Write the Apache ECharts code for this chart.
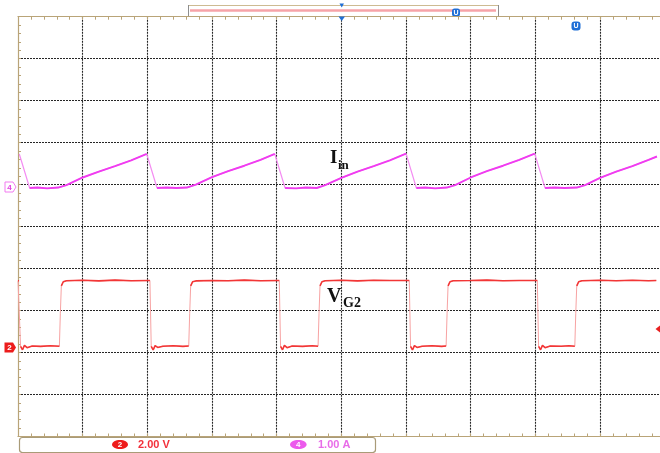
<!DOCTYPE html>
<html>
<head>
<meta charset="utf-8">
<script src="https://cdn.jsdelivr.net/npm/echarts@6/dist/echarts.min.js"></script>
<style>
  html, body { margin: 0; padding: 0; background: #ffffff; }
  #chart { width: 660px; height: 453px; }
</style>
</head>
<body>
<div id="chart"></div>
<script>
// Horizontal position is in screen divisions (10 across), 1.00 A/div on CH4, 2.00 V/div on CH2.

// CH4: input current Iin (A)
const iinTime = [
  0.02, 0.18, 0.30, 0.45, 0.62, 0.75, 1.00, 1.25, 1.50, 1.75,
  1.99, 2.15, 2.30, 2.45, 2.61, 2.75, 3.00, 3.25, 3.50, 3.75,
  3.97, 4.13, 4.30, 4.45, 4.62, 4.75, 5.00, 5.25, 5.50, 5.75,
  6.00, 6.16, 6.30, 6.45, 6.63, 6.76, 7.00, 7.25, 7.50, 7.75,
  7.99, 8.15, 8.30, 8.45, 8.64, 8.77, 9.00, 9.25, 9.50, 9.75, 9.88
];
const iinAmps = [
  0.81, 0.00, 0.01, -0.01, 0.01, 0.07, 0.25, 0.39, 0.52, 0.66,
  0.81, 0.00, 0.01, 0.00, 0.01, 0.08, 0.26, 0.40, 0.53, 0.67,
  0.81, 0.00, -0.01, 0.01, 0.00, 0.07, 0.24, 0.39, 0.52, 0.66,
  0.82, 0.00, 0.01, -0.01, 0.01, 0.07, 0.25, 0.40, 0.53, 0.67,
  0.82, 0.00, 0.01, 0.00, 0.01, 0.07, 0.24, 0.39, 0.52, 0.67, 0.75
];

// CH2: gate voltage VG2 (V)
const vg2Time = [
  0.00, 0.016, 0.04, 0.07, 0.10, 0.14, 0.22, 0.35, 0.50, 0.64, 0.655, 0.67, 0.70, 0.75,
  1.00, 1.25, 1.50, 1.75, 2.04, 2.06, 2.09, 2.12, 2.16, 2.24, 2.40, 2.55, 2.64, 2.655,
  2.67, 2.70, 2.75, 3.00, 3.25, 3.50, 3.75, 4.04, 4.06, 4.09, 4.12, 4.16, 4.24, 4.40,
  4.55, 4.64, 4.655, 4.67, 4.70, 4.75, 5.00, 5.25, 5.50, 5.75, 6.05, 6.07, 6.10, 6.13,
  6.17, 6.25, 6.40, 6.55, 6.62, 6.635, 6.65, 6.68, 6.73, 7.00, 7.25, 7.50, 7.75, 8.03,
  8.05, 8.08, 8.11, 8.15, 8.23, 8.40, 8.52, 8.61, 8.625, 8.64, 8.67, 8.72, 9.00, 9.25,
  9.50, 9.75, 9.87
];
const vg2Volts = [
  3.15, 3.15, 0.02, -0.14, 0.07, -0.04, 0.04, 0.02, 0.05, 0.03, 1.60, 2.90, 3.10, 3.15,
  3.17, 3.14, 3.18, 3.15, 3.16, 0.02, -0.15, 0.06, -0.03, 0.03, 0.05, 0.02, 0.04, 1.60,
  2.90, 3.10, 3.14, 3.16, 3.15, 3.18, 3.15, 3.16, 0.02, -0.14, 0.07, -0.04, 0.04, 0.02,
  0.05, 0.03, 1.60, 2.90, 3.10, 3.15, 3.17, 3.14, 3.17, 3.16, 3.16, 0.02, -0.15, 0.06,
  -0.03, 0.03, 0.05, 0.02, 0.04, 1.60, 2.90, 3.10, 3.15, 3.16, 3.18, 3.15, 3.16, 3.16,
  0.02, -0.14, 0.07, -0.04, 0.04, 0.03, 0.05, 0.03, 1.60, 2.90, 3.10, 3.15, 3.17, 3.15,
  3.17, 3.15, 3.16
];

// Channel settings shown in the status bar
const ch2Scale = '2.00 V';
const ch4Scale = '1.00 A';

// Screen layout: 10 x 10 divisions; ground references in divisions from the top edge
const DIVS = 10;
const CH4_GROUND_DIV = 4.08;   // 1.00 A per division
const CH2_GROUND_DIV = 7.864;  // 2.00 V per division

const BORDER = '#b9a478';
const GRID = '#262626';
const CH4 = '#f03cf0';
const CH4_EDGE = '#f48cf2';
const CH2 = '#f23636';
const CH2_EDGE = '#f7a3a3';

// Split a trace into its slow parts (bright) and steep transitions (faint), like a scope's intensity grading.
function slowParts(ts, vs, maxSlope) {
  const out = [];
  for (let i = 0; i < ts.length; i++) {
    if (i > 0) {
      const slope = Math.abs((vs[i] - vs[i - 1]) / (ts[i] - ts[i - 1]));
      if (slope > maxSlope) out.push([(ts[i] + ts[i - 1]) / 2, '-']);
    }
    out.push([ts[i], vs[i]]);
  }
  return out;
}
const pairs = (ts, vs) => ts.map((t, i) => [t, vs[i]]);

const chart = echarts.init(document.getElementById('chart'), null, { renderer: 'canvas' });

const frameAxis = (position, withGrid) => ({
  type: 'value', min: 0, max: DIVS, interval: 1, position: position,
  axisLine: { show: true, onZero: false, lineStyle: { color: BORDER, width: 1.2 } },
  axisTick: { show: true, inside: true, length: 3, lineStyle: { color: BORDER } },
  minorTick: { show: true, splitNumber: 5, length: 3, lineStyle: { color: BORDER } },
  axisLabel: { show: false },
  splitLine: {
    show: withGrid, showMinLine: false, showMaxLine: false,
    lineStyle: { color: GRID, width: 1.1, type: [2, 1] }
  }
});

chart.setOption({
  animation: false,
  backgroundColor: '#ffffff',
  grid: { left: 18, top: 16.7, width: 646.7, height: 419.8, containLabel: false, outerBoundsMode: 'none' },
  xAxis: [frameAxis('bottom', true), frameAxis('top', false)],
  yAxis: [
    frameAxis('left', true),
    { type: 'value', show: false, min: CH4_GROUND_DIV - DIVS, max: CH4_GROUND_DIV },
    { type: 'value', show: false, min: 2 * (CH2_GROUND_DIV - DIVS), max: 2 * CH2_GROUND_DIV }
  ],
  series: [
    { name: 'Iin edges', type: 'line', xAxisIndex: 0, yAxisIndex: 1, symbol: 'none',
      data: pairs(iinTime, iinAmps), lineStyle: { color: CH4_EDGE, width: 1.2 }, z: 3 },
    { name: 'Iin', type: 'line', xAxisIndex: 0, yAxisIndex: 1, symbol: 'none', connectNulls: false,
      data: slowParts(iinTime, iinAmps, 2), lineStyle: { color: CH4, width: 1.9 }, z: 4 },
    { name: 'VG2 edges', type: 'line', xAxisIndex: 0, yAxisIndex: 2, symbol: 'none',
      data: pairs(vg2Time, vg2Volts), lineStyle: { color: CH2_EDGE, width: 1 }, z: 3 },
    { name: 'VG2', type: 'line', xAxisIndex: 0, yAxisIndex: 2, symbol: 'none', connectNulls: false,
      data: slowParts(vg2Time, vg2Volts, 20), lineStyle: { color: CH2, width: 1.6 }, z: 4 }
  ],
  graphic: [
    // record-length bar above the screen
    { type: 'line', shape: { x1: 188, y1: 5.5, x2: 498, y2: 5.5 }, style: { stroke: '#cdbb92', lineWidth: 1 } },
    { type: 'line', shape: { x1: 188.5, y1: 5, x2: 188.5, y2: 16 }, style: { stroke: '#8d8d8d', lineWidth: 1 } },
    { type: 'line', shape: { x1: 498.5, y1: 5, x2: 498.5, y2: 16 }, style: { stroke: '#8d8d8d', lineWidth: 1 } },
    { type: 'line', shape: { x1: 190, y1: 10.5, x2: 496, y2: 10.5 }, style: { stroke: '#f6a3a8', lineWidth: 2.5 } },
    { type: 'polygon', shape: { points: [[339.5, 3.5], [344, 3.5], [341.7, 7.5]] }, style: { fill: '#1f6fd6' } },
    { type: 'polygon', shape: { points: [[338.5, 16.5], [345, 16.5], [341.7, 21]] }, style: { fill: '#1f6fd6' }, z: 10 },
    { type: 'group', x: 456, y: 12.5, children: [
      { type: 'rect', shape: { x: -4, y: -4, width: 8, height: 8, r: 2.5 }, style: { fill: '#1f6fd6' } },
      { type: 'text', style: { text: 'U', x: 0, y: 0.5, align: 'center', verticalAlign: 'middle',
        font: 'bold 7px "Liberation Sans"', fill: '#ffffff' } }
    ] },
    { type: 'group', x: 576, y: 26, z: 10, children: [
      { type: 'rect', shape: { x: -4.5, y: -4.5, width: 9, height: 9, r: 3 }, style: { fill: '#1f6fd6' } },
      { type: 'text', style: { text: 'U', x: 0, y: 0.5, align: 'center', verticalAlign: 'middle',
        font: 'bold 7px "Liberation Sans"', fill: '#ffffff' } }
    ] },

    // channel ground markers
    { type: 'group', z: 10, children: [
      { type: 'polygon', shape: { points: [[5, 182], [13, 182], [16, 187], [13, 192], [5, 192]] },
        style: { fill: '#ffffff', stroke: '#f27af0', lineWidth: 1 } },
      { type: 'text', style: { text: '4', x: 9.5, y: 187.5, align: 'center', verticalAlign: 'middle',
        font: 'bold 8px "Liberation Sans"', fill: '#e23fe0' } }
    ] },
    { type: 'group', z: 10, children: [
      { type: 'polygon', shape: { points: [[4.5, 342.5], [13, 342.5], [16, 347.5], [13, 352.5], [4.5, 352.5]] },
        style: { fill: '#ec1c1c' } },
      { type: 'text', style: { text: '2', x: 9.5, y: 348, align: 'center', verticalAlign: 'middle',
        font: 'bold 8px "Liberation Sans"', fill: '#ffffff' } }
    ] },
    // trigger level marker
    { type: 'polygon', z: 10, shape: { points: [[655.5, 329], [660, 325.5], [660, 332.5]] }, style: { fill: '#e82020' } },

    // trace names
    { type: 'text', z: 20, style: { text: 'I', x: 330, y: 158.5, verticalAlign: 'middle',
      font: 'bold 19px "Liberation Serif"', fill: '#111111' } },
    { type: 'text', z: 20, style: { text: 'in', x: 338, y: 166, verticalAlign: 'middle',
      font: 'bold 13px "Liberation Serif"', fill: '#111111' } },
    { type: 'text', z: 20, style: { text: 'V', x: 327, y: 296.5, verticalAlign: 'middle',
      font: 'bold 20px "Liberation Serif"', fill: '#111111' } },
    { type: 'text', z: 20, style: { text: 'G2', x: 343, y: 303.5, verticalAlign: 'middle',
      font: 'bold 14px "Liberation Serif"', fill: '#111111' } },

    // vertical scale status bar
    { type: 'rect', z: 10, shape: { x: 19.5, y: 437.5, width: 356, height: 15, r: 3 },
      style: { fill: '#ffffff', stroke: '#a99b78', lineWidth: 1.2 } },
    { type: 'ellipse', z: 11, shape: { cx: 120, cy: 444.5, rx: 8, ry: 4.6 }, style: { fill: '#ee1c1c' } },
    { type: 'text', z: 12, style: { text: '2', x: 120, y: 445, align: 'center', verticalAlign: 'middle',
      font: 'bold 8px "Liberation Sans"', fill: '#ffffff' } },
    { type: 'text', z: 12, style: { text: ch2Scale, x: 138, y: 445, verticalAlign: 'middle',
      font: 'bold 11px "Liberation Sans"', fill: '#f2303a' } },
    { type: 'ellipse', z: 11, shape: { cx: 298.3, cy: 444.5, rx: 8.3, ry: 4.6 }, style: { fill: '#ec5aec' } },
    { type: 'text', z: 12, style: { text: '4', x: 298.3, y: 445, align: 'center', verticalAlign: 'middle',
      font: 'bold 8px "Liberation Sans"', fill: '#ffffff' } },
    { type: 'text', z: 12, style: { text: ch4Scale, x: 318, y: 445, verticalAlign: 'middle',
      font: 'bold 11px "Liberation Sans"', fill: '#e86ce8' } }
  ]
});
</script>
</body>
</html>
